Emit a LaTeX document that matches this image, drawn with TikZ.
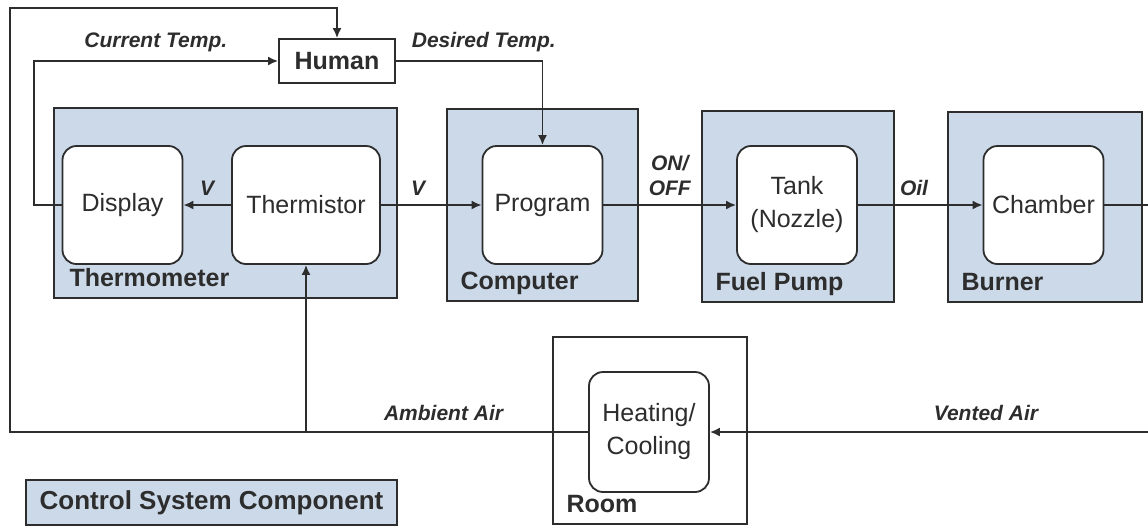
\documentclass[tikz,border=0pt]{standalone}
\usepackage{fontspec}
\setmainfont{Liberation Sans}
\definecolor{unitblue}{RGB}{204,217,233}
\definecolor{inkgray}{RGB}{45,45,45}
\usetikzlibrary{arrows.meta,positioning}

\begin{document}
\begin{tikzpicture}[x=0.5pt,y=-0.5pt,
      unitbox/.style={draw=inkgray,fill=unitblue,line width=0.9pt,inner sep=0pt},
      partbox/.style={draw=inkgray,fill=white,rounded corners=7pt,line width=0.9pt,
                      minimum width=60pt,minimum height=59pt,align=center,text=inkgray,
                      font=\fontsize{12.5}{16.5}\selectfont},
      unitlbl/.style={font=\fontsize{12.5}{15}\selectfont\bfseries,text=inkgray,
                      anchor=base west,inner sep=0pt},
      sig/.style={font=\fontsize{10.5}{12.5}\selectfont\bfseries\itshape,text=inkgray,align=center},
      flow/.style={draw=inkgray,line width=0.9pt,-{Latex[length=5pt,width=4.5pt]}}]
      \useasboundingbox (0,0) rectangle (1148,527);
      % control system components
      \node[unitbox,minimum width=171.5pt,minimum height=95pt] (thermo) at (225.5,203) {};
      \node[unitbox,minimum width=95.5pt,minimum height=96pt] (computer) at (542.5,205) {};
      \node[unitbox,minimum width=96pt,minimum height=95.5pt] (pump) at (798,206.5) {};
      \node[unitbox,minimum width=97pt,minimum height=95pt] (burner) at (1045,207) {};
      \node[unitbox,fill=white,minimum width=97pt,minimum height=93.5pt] (room) at (650,430.5) {};
      \node[unitbox,minimum width=185.5pt,minimum height=22.5pt,text=inkgray,
            font=\fontsize{13}{15}\selectfont\bfseries] (legend) at (211.5,502.5) {Control System Component};
      \node[unitlbl] at ([xshift=8pt,yshift=6pt]thermo.south west) {Thermometer};
      \node[unitlbl] at ([xshift=7pt,yshift=6pt]computer.south west) {Computer};
      \node[unitlbl] at ([xshift=7pt,yshift=6pt]pump.south west) {Fuel Pump};
      \node[unitlbl] at ([xshift=7pt,yshift=6pt]burner.south west) {Burner};
      \node[unitlbl] at ([xshift=7pt,yshift=6pt]room.south west) {Room};
      % parts
      \node[partbox] (display) at (122.5,205) {Display};
      \node[partbox,minimum width=74pt] (thermistor) at (306,205) {Thermistor};
      \node[partbox] (program) at (542.5,205) {Program};
      \node[partbox] (tank) at (797,205) {Tank\\(Nozzle)};
      \node[partbox] (chamber) at (1043.5,205) {Chamber};
      \node[partbox,minimum height=60pt] (heating) at (649,432) {Heating/\\Cooling};
      \node[draw=inkgray,fill=white,line width=0.9pt,minimum width=58pt,minimum height=22pt,
            text=inkgray,font=\fontsize{12.5}{15}\selectfont\bfseries] (human) at (337,61) {Human};
      % free ends at the picture edge
      \coordinate (cornerNW) at (10,8);
      \coordinate (cornerSW) at (10,432);
      \coordinate (exhaust) at (1148,205);
      \coordinate (ventin) at (1148,432);
      % signals
      \draw[flow] (thermistor.west) -- node[sig,above=1pt] {V} (display.east);
      \draw[flow] (thermistor.east) -- node[sig,above=1pt,pos=0.37] {V} (program.west);
      \draw[flow] (program.east) -- node[sig,above=1pt] {ON/\\OFF} (tank.west);
      \draw[flow] (tank.east) -- node[sig,above=1pt,pos=0.45] {Oil} (chamber.west);
      \draw[draw=inkgray,line width=0.9pt] (chamber.east) -- (exhaust);
      \draw[flow] (ventin) -- node[sig,above=2pt,pos=0.37] {Vented Air} (heating.east);
      \draw[flow] (heating.west) -- node[sig,above=2pt,pos=0.25] {Ambient Air} (cornerSW)
                  -- (cornerNW) -| (human.north);
      \draw[flow] (thermistor.south |- cornerSW) -- (thermistor.south);
      \draw[flow] (display.west) -- ++(-28,0) |- node[sig,above=1pt,pos=0.75] {Current Temp.} (human.west);
      \draw[flow] (human.east) -- node[sig,above=1pt,pos=0.6] {Desired Temp.} (human.east -| program.north)
                  -- (program.north);
\end{tikzpicture}
\end{document}
